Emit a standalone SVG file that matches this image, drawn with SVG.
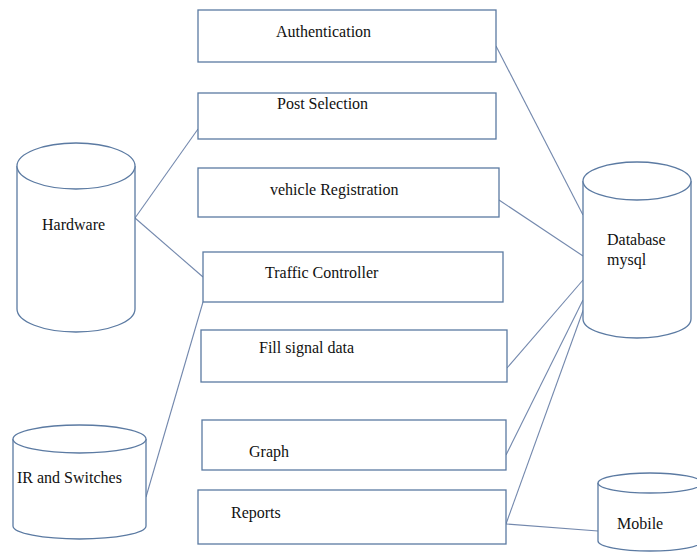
<svg xmlns="http://www.w3.org/2000/svg" width="697" height="552" viewBox="0 0 697 552">
<style>
.box{fill:#fff;stroke:#5b7aa2;stroke-width:1.3}
.cyl{fill:#fff;stroke:#5b7aa2;stroke-width:1.3}
.con{fill:none;stroke:#7388ad;stroke-width:1.1}
.t{font-family:'Liberation Serif','Times New Roman',serif;font-size:16px;fill:#111}
</style>
<rect width="697" height="552" fill="#fff"/>
<g id="connectors">
<line class="con" x1="496" y1="46" x2="583" y2="215"/>
<line class="con" x1="135" y1="218" x2="198" y2="129"/>
<line class="con" x1="135" y1="218" x2="203" y2="277"/>
<line class="con" x1="499" y1="200" x2="583" y2="256"/>
<line class="con" x1="146" y1="497" x2="203" y2="302"/>
<line class="con" x1="507" y1="368" x2="583" y2="280"/>
<line class="con" x1="506" y1="455" x2="583" y2="300"/>
<line class="con" x1="506" y1="524" x2="584" y2="308"/>
<line class="con" x1="506" y1="524" x2="598" y2="531"/>
</g>
<g id="authentication">
<rect class="box" x="198" y="10" width="298" height="52"/>
<text class="t" x="276" y="37">Authentication</text>
</g>
<g id="post-selection">
<rect class="box" x="198" y="93" width="298" height="46"/>
<text class="t" x="277" y="109">Post Selection</text>
</g>
<g id="vehicle-registration">
<rect class="box" x="198" y="168" width="301" height="49"/>
<text class="t" x="270" y="195">vehicle Registration</text>
</g>
<g id="traffic-controller">
<rect class="box" x="203" y="252" width="300" height="50"/>
<text class="t" x="265" y="278">Traffic Controller</text>
</g>
<g id="fill-signal-data">
<rect class="box" x="201" y="330" width="306" height="52"/>
<text class="t" x="259" y="353">Fill signal data</text>
</g>
<g id="graph">
<rect class="box" x="202" y="420" width="304" height="50"/>
<text class="t" x="249" y="457">Graph</text>
</g>
<g id="reports">
<rect class="box" x="198" y="490" width="308" height="54"/>
<text class="t" x="231" y="518">Reports</text>
</g>
<g id="hardware">
<path class="cyl" d="M17,166 L17,309 A59,23 0 0 0 135,309 L135,166"/>
<ellipse class="cyl" cx="76" cy="166" rx="59" ry="23"/>
<text class="t" x="42" y="230">Hardware</text>
</g>
<g id="ir-switches">
<path class="cyl" d="M13,439 L13,526 A66.5,13 0 0 0 146,526 L146,439"/>
<ellipse class="cyl" cx="79.5" cy="439" rx="66.5" ry="14"/>
<text class="t" x="17" y="483">IR and Switches</text>
</g>
<g id="database">
<path class="cyl" d="M583,181 L583,319 A54,19 0 0 0 691,319 L691,181"/>
<ellipse class="cyl" cx="637" cy="181" rx="54" ry="19"/>
<text class="t" x="607" y="245">Database</text>
<text class="t" x="607" y="265">mysql</text>
</g>
<g id="mobile">
<path class="cyl" d="M598,483 L598,541 A52,10 0 0 0 702,541 L702,483"/>
<ellipse class="cyl" cx="650" cy="483" rx="52" ry="10"/>
<text class="t" x="617" y="529">Mobile</text>
</g>
</svg>
